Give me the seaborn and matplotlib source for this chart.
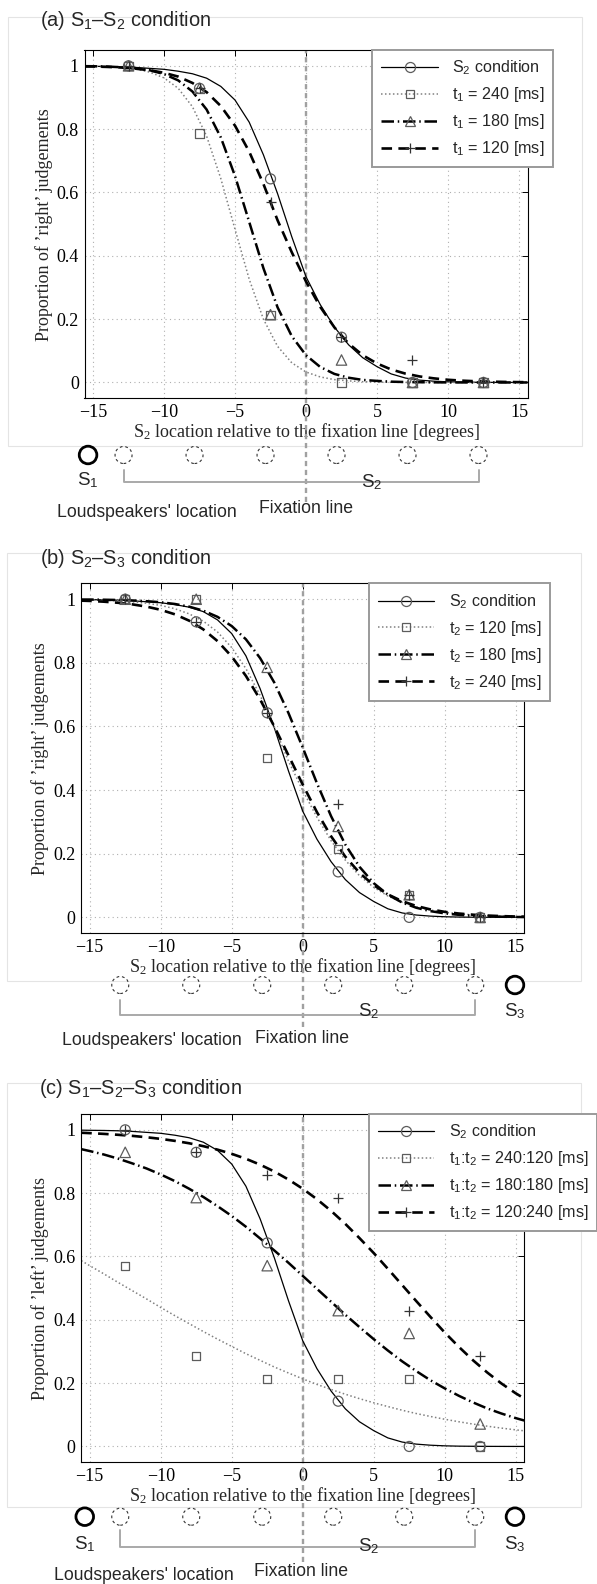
import matplotlib as mpl
import matplotlib.pyplot as plt
from matplotlib.lines import Line2D
from matplotlib.patches import Ellipse, Rectangle
import pandas as pd
import seaborn as sns

# --- 1. Data ---
# x grid (degrees) at which the fitted psychometric curves were read
curve_x = [-15.6, -15, -14, -13, -12, -11, -10, -9, -8, -7, -6, -5, -4, -3, -2, -1,
           0, 1, 2, 3, 4, 5, 6, 7, 8, 9, 10, 11, 12, 13, 14, 15, 15.6]
# S2 loudspeaker positions (measured points sit on these)
speaker_x = [-12.5, -7.5, -2.5, 2.5, 7.5, 12.5]

# S2 condition: same data and fit in all three panels
s2_curve = [0.999, 0.9985, 0.998, 0.997, 0.995, 0.992, 0.989, 0.983, 0.975, 0.961, 0.935,
            0.892, 0.822, 0.719, 0.596, 0.46, 0.334, 0.246, 0.175, 0.119, 0.078, 0.050,
            0.027, 0.014, 0.0074, 0.004, 0.002, 0.001, 0.0006, 0.0003, 0.0002, 0.0001, 0.0001]
s2_pts = [1.0, 0.929, 0.643, 0.143, 0.0, 0.0]

# (a) S1-S2: t1 = 240 / 180 / 120 ms
a_dot_curve = [0.999, 0.9985, 0.997, 0.995, 0.990, 0.980, 0.962, 0.929, 0.871, 0.778, 0.644,
               0.484, 0.326, 0.200, 0.114, 0.062, 0.033, 0.0175, 0.009, 0.005, 0.0024, 0.0012,
               0.0006, 0.0003, 0.0002, 0.0001, 0, 0, 0, 0, 0, 0, 0]
a_dashdot_curve = [0.999, 0.9987, 0.9976, 0.9956, 0.992, 0.986, 0.974, 0.954, 0.919, 0.862, 0.774,
                   0.652, 0.507, 0.361, 0.237, 0.146, 0.086, 0.049, 0.027, 0.015, 0.008, 0.005,
                   0.0025, 0.0014, 0.0008, 0.0004, 0.0002, 0.0001, 0, 0, 0, 0, 0]
a_dash_curve = [0.998, 0.9979, 0.9966, 0.9946, 0.991, 0.986, 0.978, 0.966, 0.946, 0.917, 0.873,
                0.811, 0.729, 0.627, 0.512, 0.411, 0.319, 0.239, 0.174, 0.123, 0.086, 0.060,
                0.041, 0.028, 0.019, 0.013, 0.0085, 0.0057, 0.0038, 0.0026, 0.0017, 0.0011, 0.0009]
a_dot_pts = [1.0, 0.786, 0.214, 0.0, 0.0, 0.0]
a_dashdot_pts = [1.0, 0.929, 0.214, 0.071, 0.0, 0.0]
a_dash_pts = [1.0, 0.929, 0.571, 0.143, 0.071, 0.0]

# (b) S2-S3: t2 = 120 / 180 / 240 ms
b_dot_curve = [0.998, 0.9978, 0.9966, 0.9947, 0.9918, 0.9874, 0.9805, 0.970, 0.954, 0.931, 0.897,
               0.848, 0.782, 0.698, 0.599, 0.491, 0.399, 0.315, 0.241, 0.180, 0.131, 0.0945,
               0.0672, 0.0474, 0.0332, 0.0232, 0.0162, 0.0112, 0.0078, 0.0054, 0.0037, 0.0026, 0.002]
b_dashdot_curve = [0.999, 0.999, 0.9984, 0.9975, 0.9961, 0.9938, 0.9904, 0.985, 0.9767, 0.964, 0.9446,
                   0.9156, 0.874, 0.815, 0.738, 0.642, 0.534, 0.422, 0.318, 0.229, 0.159, 0.1076,
                   0.0714, 0.0468, 0.0303, 0.0196, 0.0126, 0.008, 0.0051, 0.0033, 0.0021, 0.0013, 0.001]
b_dash_curve = [0.9955, 0.9946, 0.9922, 0.9888, 0.9838, 0.9767, 0.9666, 0.9525, 0.9326, 0.9052, 0.8684,
                0.820, 0.759, 0.685, 0.600, 0.509, 0.4175, 0.331, 0.2548, 0.191, 0.140, 0.1013,
                0.0722, 0.051, 0.0358, 0.025, 0.0174, 0.0121, 0.0084, 0.0058, 0.004, 0.0028, 0.0023]
b_dot_pts = [1.0, 1.0, 0.5, 0.214, 0.071, 0.0]
b_dashdot_pts = [1.0, 1.0, 0.786, 0.286, 0.071, 0.0]
b_dash_pts = [1.0, 0.929, 0.643, 0.357, 0.071, 0.0]

# (c) S1-S2-S3: t1:t2 = 240:120 / 180:180 / 120:240 ms
c_dot_curve = [0.587, 0.571, 0.545, 0.518, 0.492, 0.466, 0.439, 0.413, 0.388, 0.363, 0.339,
               0.316, 0.293, 0.272, 0.251, 0.232, 0.2135, 0.196, 0.180, 0.165, 0.151, 0.138,
               0.126, 0.1145, 0.104, 0.0947, 0.086, 0.078, 0.0707, 0.064, 0.058, 0.0525, 0.0494]
c_dashdot_curve = [0.939, 0.933, 0.922, 0.909, 0.894, 0.878, 0.859, 0.838, 0.814, 0.788, 0.759,
                   0.728, 0.694, 0.657, 0.619, 0.58, 0.539, 0.498, 0.457, 0.416, 0.377, 0.339,
                   0.303, 0.269, 0.238, 0.209, 0.1835, 0.16, 0.139, 0.12, 0.104, 0.0896, 0.082]
c_dash_curve = [0.9908, 0.9896, 0.9872, 0.9843, 0.9809, 0.9766, 0.9714, 0.9651, 0.9576, 0.9484, 0.9374,
                0.9242, 0.9086, 0.890, 0.8683, 0.843, 0.814, 0.781, 0.744, 0.703, 0.658, 0.611,
                0.561, 0.510, 0.459, 0.409, 0.360, 0.3145, 0.272, 0.2335, 0.1988, 0.168, 0.1516]
c_dot_pts = [0.571, 0.286, 0.214, 0.214, 0.214, 0.0]
c_dashdot_pts = [0.929, 0.786, 0.571, 0.429, 0.357, 0.071]
c_dash_pts = [1.0, 0.929, 0.857, 0.786, 0.429, 0.286]

yticks = [0, 0.2, 0.4, 0.6, 0.8, 1]
ytick_labels = ['0', '0.2', '0.4', '0.6', '0.8', '1']
xticks = [-15, -10, -5, 0, 5, 10, 15]

panels = [
    dict(title=r'(a) S$_\mathsf{1}$–S$_\mathsf{2}$ condition',
         ylabel='Proportion of \u2019right\u2019 judgements',
         curves={'S2': s2_curve, 'dot': a_dot_curve, 'dashdot': a_dashdot_curve, 'dash': a_dash_curve},
         points={'S2': s2_pts, 'dot': a_dot_pts, 'dashdot': a_dashdot_pts, 'dash': a_dash_pts},
         labels=[r'S$_\mathsf{2}$ condition', r't$_\mathsf{1}$ = 240 [ms]',
                 r't$_\mathsf{1}$ = 180 [ms]', r't$_\mathsf{1}$ = 120 [ms]'],
         sources=['S1']),
    dict(title=r'(b) S$_\mathsf{2}$–S$_\mathsf{3}$ condition',
         ylabel='Proportion of \u2019right\u2019 judgements',
         curves={'S2': s2_curve, 'dot': b_dot_curve, 'dashdot': b_dashdot_curve, 'dash': b_dash_curve},
         points={'S2': s2_pts, 'dot': b_dot_pts, 'dashdot': b_dashdot_pts, 'dash': b_dash_pts},
         labels=[r'S$_\mathsf{2}$ condition', r't$_\mathsf{2}$ = 120 [ms]',
                 r't$_\mathsf{2}$ = 180 [ms]', r't$_\mathsf{2}$ = 240 [ms]'],
         sources=['S3']),
    dict(title=r'(c) S$_\mathsf{1}$–S$_\mathsf{2}$–S$_\mathsf{3}$ condition',
         ylabel='Proportion of \u2019left\u2019 judgements',
         curves={'S2': s2_curve, 'dot': c_dot_curve, 'dashdot': c_dashdot_curve, 'dash': c_dash_curve},
         points={'S2': s2_pts, 'dot': c_dot_pts, 'dashdot': c_dashdot_pts, 'dash': c_dash_pts},
         labels=[r'S$_\mathsf{2}$ condition', r't$_\mathsf{1}$:t$_\mathsf{2}$ = 240:120 [ms]',
                 r't$_\mathsf{1}$:t$_\mathsf{2}$ = 180:180 [ms]', r't$_\mathsf{1}$:t$_\mathsf{2}$ = 120:240 [ms]'],
         sources=['S1', 'S3']),
]
source_x = {'S1': -15.0, 'S3': 15.3}
source_text = {'S1': r'S$_\mathsf{1}$', 'S3': r'S$_\mathsf{3}$'}

# --- 2. Layout (pixels of a 597 x 1584 canvas) ---
W, H = 597, 1584
AX_W = 443
XLIM = (-15.6, 15.6)
PX_PER_DEG = AX_W / (XLIM[1] - XLIM[0])
DIAG_SHIFT = 0.35   # the loudspeaker sketch sits a little left of the data axis
DIAG_H = 130

layout = [
    dict(left=84.5, top=50, bottom=398.3, title_xy=(40, 20), border=(8.4, 17.3, 581.5, 446),
         fix_ext=103.4, circ_y=-56.7, brk_y=-84, brk_top=-71.7, s_base=-87, s2_base=-89,
         fix_base=-114.4, fix_x=0.35, loud_base=-119, loud_x=-10.85),
    dict(left=81.2, top=583.3, bottom=933.3, title_xy=(40, 558), border=(6.9, 552.7, 580.7, 980.7),
         fix_ext=93.4, circ_y=-51.7, brk_y=-81.7, brk_top=-66.7, s_base=-82.7, s2_base=-82.7,
         fix_base=-110, fix_x=0.3, loud_base=-111.7, loud_x=-10.27),
    dict(left=81.2, top=1114, bottom=1462.3, title_xy=(38.8, 1089), border=(6.9, 1082.7, 580.7, 1506.7),
         fix_ext=99.4, circ_y=-54.4, brk_y=-84.4, brk_top=-67.7, s_base=-87, s2_base=-89.4,
         fix_base=-113.7, fix_x=0.23, loud_base=-117.5, loud_x=-10.85),
]

styles = {
    'S2': dict(color='black', lw=0.9, dashes='', marker='o', ms=7.2),
    'dot': dict(color='#808080', lw=1.1, dashes=(1, 1.6), marker='s', ms=6.0),
    'dashdot': dict(color='black', lw=1.8, dashes=(5, 1.5, 0.6, 1.5), marker='^', ms=7.5),
    'dash': dict(color='black', lw=1.9, dashes=(4, 2.4), marker='+', ms=7.0),
}
MARKER_EC = '#5c5c5c'

sns.set_style('white')
mpl.rcParams.update({
    'font.family': 'serif',
    'font.serif': ['Liberation Serif', 'DejaVu Serif'],
    'font.sans-serif': ['Liberation Sans', 'DejaVu Sans'],
    'mathtext.fontset': 'custom',
    'mathtext.rm': 'Liberation Serif',
    'mathtext.it': 'Liberation Serif:italic',
    'mathtext.bf': 'Liberation Serif:bold',
    'mathtext.sf': 'Liberation Sans',
    'axes.edgecolor': 'black',
    'axes.linewidth': 0.8,
    'xtick.color': 'black',
    'ytick.color': 'black',
    'axes.unicode_minus': True,
})

fig = plt.figure(figsize=(W / 100, H / 100), dpi=100)

for p, lay in zip(panels, layout):
    L, T, B = lay['left'], lay['top'], lay['bottom']
    ax = fig.add_axes([L / W, 1 - B / H, AX_W / W, (B - T) / H])

    # fitted curves
    df = pd.concat([pd.DataFrame({'x': curve_x, 'y': c, 'series': k}) for k, c in p['curves'].items()])
    sns.lineplot(data=df, x='x', y='y', hue='series', style='series', size='series',
                 palette={k: s['color'] for k, s in styles.items()},
                 dashes={k: s['dashes'] for k, s in styles.items()},
                 sizes={k: s['lw'] for k, s in styles.items()},
                 estimator=None, sort=False, legend=False, ax=ax, zorder=2)

    # measured proportions
    for k, vals in p['points'].items():
        st = styles[k]
        kw = dict(marker=st['marker'], s=st['ms'] ** 2, linewidth=0.9, zorder=3)
        if st['marker'] == '+':
            kw['color'] = '#333333'
        else:
            kw.update(facecolors='none', edgecolor=MARKER_EC)
        sns.scatterplot(x=speaker_x, y=vals, ax=ax, legend=False, **kw)

    ax.set_xlim(*XLIM)
    ax.set_ylim(-0.05, 1.05)
    ax.set_xticks(xticks)
    ax.set_yticks(yticks)
    ax.set_yticklabels(ytick_labels)
    ax.tick_params(direction='in', length=4, width=0.7, top=True, right=True, labelsize=13, pad=4)
    ax.grid(True, linestyle=(0, (1, 3)), color='#b0b0b0', linewidth=0.8)
    ax.set_axisbelow(True)
    ax.set_xlabel(r'S$_\mathrm{2}$ location relative to the fixation line [degrees]', fontsize=13, labelpad=0)
    ax.set_ylabel(p['ylabel'], fontsize=13, labelpad=3)

    # fixation line, running down through the loudspeaker sketch
    ax.axvline(0, ymin=-lay['fix_ext'] / (B - T), ymax=1, clip_on=False, color='#a0a0a0',
               lw=1.7, linestyle=(0, (2.2, 1.6)), zorder=1.5)

    handles = []
    for k in p['curves']:
        st = styles[k]
        is_plus = st['marker'] == '+'
        handles.append(Line2D([], [], color=st['color'], lw=st['lw'],
                              linestyle=(0, st['dashes']) if st['dashes'] else '-',
                              marker=st['marker'], markersize=st['ms'],
                              markerfacecolor='none', markeredgecolor='#333333' if is_plus else MARKER_EC,
                              markeredgewidth=0.9))
    leg = ax.legend(handles, p['labels'], loc='upper left', bbox_to_anchor=(0.65, 1.0),
                    borderaxespad=0, frameon=True, fancybox=False, edgecolor='#9a9a9a',
                    framealpha=1, prop=dict(family='sans-serif', size=11.6), handlelength=3.5,
                    handletextpad=0.9, borderpad=0.55, labelspacing=0.5, numpoints=1)
    leg.get_frame().set_linewidth(1.4)

    # title and faint panel frame
    tx, ty = lay['title_xy']
    fig.text(tx / W, 1 - ty / H, p['title'], ha='left', va='center', family='sans-serif', fontsize=14.4)
    x0, y0, x1, y1 = lay['border']
    fig.add_artist(Rectangle((x0 / W, 1 - y1 / H), (x1 - x0) / W, (y1 - y0) / H, transform=fig.transFigure,
                             fill=False, ec='#e4e4e4', lw=0.8, zorder=0))

    # loudspeaker sketch under the axis (x in degrees, y in pixels below the axis)
    ax_d = fig.add_axes([L / W, 1 - (B + DIAG_H) / H, AX_W / W, DIAG_H / H])
    ax_d.set_xlim(XLIM[0] + DIAG_SHIFT, XLIM[1] + DIAG_SHIFT)
    ax_d.set_ylim(-DIAG_H, 0)
    ax_d.axis('off')
    for sx in speaker_x:
        ax_d.add_patch(Ellipse((sx, lay['circ_y']), 2 * 8.5 / PX_PER_DEG, 17, fill=False,
                               lw=0.8, ls=(0, (2.5, 2.5)), ec='#333333'))
    for s in p['sources']:
        ax_d.add_patch(Ellipse((source_x[s], lay['circ_y']), 2 * 8.8 / PX_PER_DEG, 17.6, fill=False,
                               lw=2.0, ec='black', clip_on=False))
        ax_d.text(source_x[s], lay['s_base'], source_text[s], ha='center', va='baseline',
                  family='sans-serif', fontsize=13.5)
    ax_d.plot([speaker_x[0], speaker_x[0], speaker_x[-1], speaker_x[-1]],
              [lay['brk_top'], lay['brk_y'], lay['brk_y'], lay['brk_top']], color='#a9a9a9', lw=1.4)
    ax_d.text(5.0, lay['s2_base'], r'S$_\mathsf{2}$', ha='center', va='baseline',
              family='sans-serif', fontsize=13.5)
    ax_d.text(lay['fix_x'], lay['fix_base'], 'Fixation line', ha='center', va='baseline',
              family='sans-serif', fontsize=12.7)
    ax_d.text(lay['loud_x'], lay['loud_base'], 'Loudspeakers\' location', ha='center', va='baseline',
              family='sans-serif', fontsize=12.7, clip_on=False)

fig.savefig('out.png', dpi=100)
